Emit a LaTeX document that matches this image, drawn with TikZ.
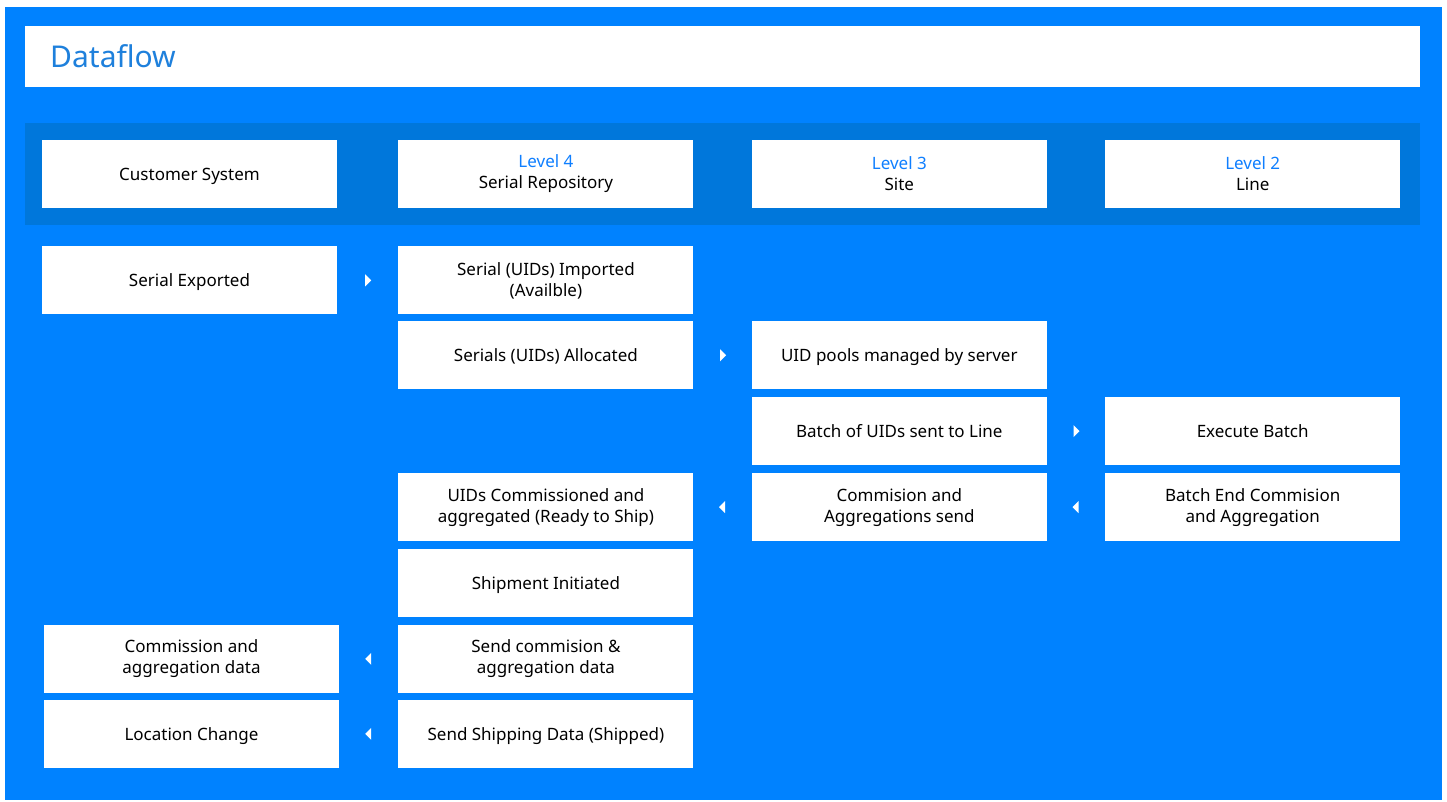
\documentclass[tikz,border=0pt]{standalone}
\usepackage{fontspec}
\setmainfont{Noto Sans}
\usepackage{tikz}
\usetikzlibrary{positioning,shapes.geometric}

\definecolor{fondo}{RGB}{0,130,255}
\definecolor{banda}{RGB}{0,119,219}
\definecolor{titulo}{RGB}{30,128,220}
\definecolor{nivel}{RGB}{15,127,255}

\begin{document}
\begin{tikzpicture}[x=1pt, y=-1pt, node distance=6.5pt and 58pt, font=\fontsize{17}{21}\selectfont]
				\tikzset{box/.style={fill=white, minimum width=295pt, minimum height=68pt, inner sep=0pt, align=center, text=black}}
				\tikzset{one/.style={box, text depth=0pt}}
				\tikzset{fwd/.style={isosceles triangle, isosceles triangle stretches, fill=white, inner sep=0pt, minimum width=12pt, minimum height=6pt, shape border rotate=0}}
				\tikzset{bwd/.style={fwd, shape border rotate=180}}

				\useasboundingbox (0,0) rectangle (1447,801);
				\fill[fondo] (5,7) rectangle (1442,800);
				\fill[white] (25,26) rectangle (1420,87);
				\node[anchor=west, text=titulo, font=\fontsize{30}{36}\selectfont, inner sep=0pt] (title) at (50,56) {Dataflow};
				\fill[banda] (25,123) rectangle (1420,225);

				%ENCABEZADO
				\node[one]	(cs) at (189.5,174)		{Customer System};
				\node[box]	(l4) [right=61pt of cs]	{\textcolor{nivel}{Level 4}\\Serial Repository};
				\node[box]	(l3) [right=of l4]		{\textcolor{nivel}{Level 3}\\Site};
				\node[box]	(l2) [right=of l3]		{\textcolor{nivel}{Level 2}\\Line};

				%CAJAS
				\node[box]	(imp) [below=38pt of l4]	{Serial (UIDs) Imported\\(Availble)};
				\node[one]	(se) [left=61pt of imp]	{Serial Exported};
				\node[one]	(alloc) [below=of imp]	{Serials (UIDs) Allocated};
				\node[one]	(pools) [right=of alloc]	{UID pools managed by server};
				\node[one]	(batch) [below=7.5pt of pools]	{Batch of UIDs sent to Line};
				\node[one]	(exec) [right=of batch]	{Execute Batch};
				\node[box]	(comm) [below=7.5pt of batch]	{Commision and\\Aggregations send};
				\node[box]	(bend) [right=of comm]	{Batch End Commision\\and Aggregation};
				\node[box]	(uidc) [left=of comm]	{UIDs Commissioned and\\aggregated (Ready to Ship)};
				\node[one]	(ship) [below=7.5pt of uidc]	{Shipment Initiated};
				\node[box]	(sendc) [below=7.5pt of ship]	{Send commision \&\\aggregation data};
				\node[one]	(sendsh) [below=of sendc]	{Send Shipping Data (Shipped)};
				\node[box]	(cad) [left=59pt of sendc]	{Commission and\\aggregation data};
				\node[one]	(loc) [left=59pt of sendsh]	{Location Change};

				%FLECHAS
				\path
					(se)	--	node [fwd]	{}	(imp)
					(alloc)	--	node [fwd]	{}	(pools)
					(batch)	--	node [fwd]	{}	(exec)
					(comm)	--	node [bwd]	{}	(uidc)
					(bend)	--	node [bwd]	{}	(comm)
					(sendc)	--	node [bwd]	{}	(cad)
					(sendsh)	--	node [bwd]	{}	(loc);
			\end{tikzpicture}
\end{document}
